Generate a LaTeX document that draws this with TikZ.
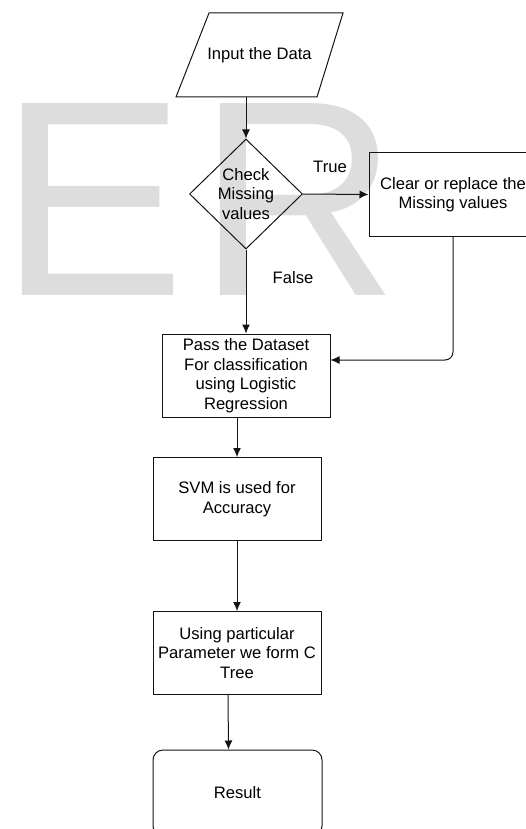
\documentclass[tikz,border=0pt]{standalone}
\usepackage{fontspec}
\setmainfont{Liberation Sans}
\usetikzlibrary{shapes.geometric,arrows.meta}

\definecolor{fig-mark}{RGB}{221,221,221}
\definecolor{fig-line}{RGB}{20,20,20}

\tikzset{
  wmark/.style={anchor=base west, inner sep=0pt, text=fig-mark,
    font=\fontsize{279pt}{279pt}\selectfont},
  procbox/.style={draw=fig-line, line width=1pt, minimum width=168pt,
    minimum height=83pt, align=center, inner sep=2pt},
  outline/.style={draw=fig-line, line width=1pt},
  decision/.style={draw=fig-line, line width=1pt, diamond, inner sep=0pt,
    minimum width=113pt, minimum height=110pt, align=center},
  endbox/.style={draw=fig-line, line width=1pt, rounded corners=10pt,
    minimum width=169pt, minimum height=86pt},
  conn/.style={draw=fig-line, line width=1pt, -{Latex[length=9pt,width=8pt]}}
}

\begin{document}
\begin{tikzpicture}[x=1pt, y=-1pt,
    every node/.append style={font=\fontsize{16.6pt}{19.5pt}\selectfont}]
  \useasboundingbox (0,0) rectangle (526,829);
  \clip (0,0) rectangle (526,829);

  \node[wmark] (er) at (-1,295) {E\kern12pt R};

  % input parallelogram
  \draw[outline] (176,97) -- (209,13) -- (343,13) -- (317,97) -- cycle;
  \node (in) at (259.5,55) {Input the Data};
  \coordinate (inb) at (246.5,97);

  \node[decision] (chk) at (246,194) {Check\\Missing\\values};
  \node[procbox] (clr) at (453,194.5) {Clear or replace the\\Missing values};
  \node[procbox] (pass) at (246,375.5) {Pass the Dataset\\For classification\\using Logistic\\Regression};
  \node[procbox] (svm) at (237,499) {SVM is used for\\Accuracy};
  \node[procbox] (tree) at (237,653) {Using particular\\Parameter we form C\\Tree};
  \node[endbox] (res) at (237.5,793) {Result};

  \node (t) at (330,167) {True};
  \node (f) at (293,278) {False};

  \draw[conn] (inb -| chk.north) -- (chk.north);
  \draw[conn] (chk.east) -- (clr.west);
  \draw[conn] (chk.south) -- (pass.north);
  \draw[conn, rounded corners=8pt] (clr.south) |- ([yshift=15.5pt]pass.east);
  \draw[conn] (pass.south -| svm.north) -- (svm.north);
  \draw[conn] (svm.south) -- (tree.north);
  \draw[conn] ([xshift=-9pt]tree.south) -- ([xshift=-9pt]res.north);
\end{tikzpicture}
\end{document}
